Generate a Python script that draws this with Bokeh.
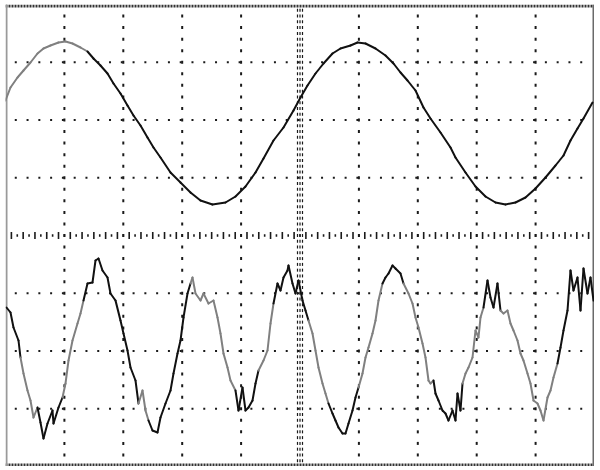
from bokeh.plotting import figure
from bokeh.models import Range1d
from bokeh.embed import file_html
from bokeh.resources import INLINE

# ---- data (time samples, level units) ----
top_t = [0, 5, 12, 18, 25, 32, 38, 45, 53, 60, 67, 75, 82, 88, 95, 102, 108, 115, 122, 128,
         135, 142, 148, 155, 165, 175, 185, 195, 207, 220, 230, 240, 250, 258, 268, 278, 288,
         295, 302, 310, 318, 327, 335, 345, 352, 360, 370, 380, 388, 395, 402, 410, 418, 425,
         435, 445, 450, 460, 470, 480, 490, 500, 510, 520, 530, 540, 550, 558, 565, 572, 578, 587]
top_v = [135, 148, 158, 165, 173, 182, 187, 190, 193, 194, 192, 188, 184, 177, 170, 162, 152,
         142, 130, 120, 110, 98, 88, 78, 63, 53, 43, 35, 31, 33, 39, 49, 63, 77, 95, 108, 125,
         138, 150, 162, 172, 182, 187, 190, 193, 192, 187, 180, 172, 163, 155, 145, 128, 117,
         103, 88, 78, 63, 49, 39, 33, 31, 33, 38, 47, 58, 70, 80, 95, 107, 117, 133]

bot_t = [1, 5, 8, 13, 15, 18, 22, 25, 28, 32, 35, 38, 42, 47, 48, 53, 57, 60, 63, 67, 72, 75,
         78, 82, 87, 90, 93, 97, 102, 105, 110, 115, 118, 122, 125, 130, 133, 137, 140, 143,
         147, 152, 155, 160, 165, 168, 172, 175, 178, 182, 185, 187, 190, 195, 198, 203, 208,
         212, 215, 218, 222, 225, 230, 233, 237, 240, 243, 247, 250, 253, 258, 262, 265, 268,
         272, 275, 278, 282, 283, 287, 290, 293, 297, 300, 303, 307, 310, 313, 317, 320, 323,
         327, 330, 333, 337, 340, 343, 347, 350, 353, 357, 360, 363, 367, 370, 373, 377, 380,
         383, 387, 390, 395, 398, 403, 407, 410, 413, 417, 420, 423, 425, 428, 430, 433, 437,
         440, 443, 447, 450, 452, 455, 457, 460, 463, 467, 470, 473, 475, 478, 482, 485, 488,
         492, 495, 498, 502, 505, 508, 512, 515, 518, 522, 525, 528, 532, 535, 538, 542, 545,
         548, 552, 555, 558, 562, 565, 568, 572, 575, 578, 582, 585, 588]
bot_v = [-72, -77, -92, -105, -122, -138, -155, -165, -182, -172, -187, -203, -188, -175, -188,
         -172, -162, -148, -125, -105, -88, -78, -65, -48, -47, -25, -23, -35, -42, -58, -65,
         -85, -98, -115, -132, -145, -168, -155, -175, -185, -195, -197, -182, -168, -155, -138,
         -118, -105, -82, -58, -48, -42, -58, -65, -58, -68, -65, -82, -98, -118, -132, -145,
         -155, -175, -152, -175, -172, -165, -148, -135, -125, -115, -88, -68, -48, -55, -42,
         -35, -30, -48, -58, -45, -65, -75, -85, -98, -115, -132, -148, -158, -168, -178, -185,
         -192, -198, -198, -188, -175, -162, -152, -138, -122, -112, -98, -85, -65, -48, -42,
         -38, -30, -33, -38, -48, -58, -68, -82, -92, -108, -122, -145, -148, -145, -158, -165,
         -175, -178, -185, -175, -185, -158, -175, -148, -138, -132, -122, -95, -102, -82, -72,
         -45, -62, -72, -48, -75, -78, -75, -88, -95, -105, -118, -125, -138, -148, -165, -168,
         -175, -185, -162, -155, -142, -128, -112, -95, -75, -35, -55, -42, -75, -33, -58, -42,
         -65]

# darker stretches of the printed traces (style only)
top_dark = [(85, 600)]
bot_dark = [(-1, 16), (32, 56), (78, 132), (142, 186), (228, 252), (268, 305), (325, 352),
            (377, 398), (428, 458), (480, 496), (552, 600)]

X_DIV, Y_DIV = 58.9, 57.75
W, H = 589, 462

p = figure(width=W, height=H, output_backend="svg", toolbar_location=None,
           x_range=Range1d(0, W), y_range=Range1d(-H / 2, H / 2),
           min_border=0, outline_line_color=None, background_fill_color="white",
           border_fill_color="white")
p.axis.visible = False
p.grid.visible = False
p.styles = {"margin-left": "5px", "margin-top": "4px"}

ink = "#1a1a1a"
# graticule: vertical dotted lines (dots every 1/5 division)
vx, vy = [], []
for k in range(1, 10):
    if k == 5:
        continue
    for j in range(-19, 20):
        vx.append(X_DIV * k)
        vy.append(j * Y_DIV / 5)
p.rect(x=vx, y=vy, width=2, height=3, width_units="screen", height_units="screen",
       fill_color=ink, line_color=None)
# horizontal dotted lines
hx, hy = [], []
for j in (-3, -2, -1, 1, 2, 3):
    for k in range(1, 50):
        hx.append(k * X_DIV / 5 - 1.5)
        hy.append(Y_DIV * j)
p.rect(x=hx, y=hy, width=2, height=2, width_units="screen", height_units="screen",
       fill_color=ink, line_color=None)
# centre vertical (triple dotted, dots every 1/10 division)
cx_, cy_ = [], []
for dx in (-2.5, 0, 2.5):
    for j in range(-39, 40):
        cx_.append(X_DIV * 5 + dx)
        cy_.append(j * Y_DIV / 10)
p.rect(x=cx_, y=cy_, width=1.2, height=3, width_units="screen", height_units="screen",
       fill_color=ink, line_color=None)
# centre horizontal with minor ticks
step = X_DIV / 10
tall = [step * k for k in range(1, 100) if k % 2 == 1]
small = [step * k for k in range(1, 100) if k % 2 == 0]
p.segment(x0=tall, y0=[-3.5] * len(tall), x1=tall, y1=[3.5] * len(tall),
          line_color=ink, line_width=1.6)
p.segment(x0=small, y0=[-1.2] * len(small), x1=small, y1=[1.2] * len(small),
          line_color=ink, line_width=1.6)
# frame edges
p.segment(x0=[0, 0], y0=[H / 2 - 1.5, -H / 2 + 1.5], x1=[W, W], y1=[H / 2 - 1.5, -H / 2 + 1.5],
          line_color="#333333", line_width=3, line_dash="2 1")
p.segment(x0=[1], y0=[-H / 2], x1=[1], y1=[H / 2], line_color="#9a9a9a", line_width=2)
p.segment(x0=[W - 1], y0=[-H / 2], x1=[W - 1], y1=[H / 2], line_color="#6a6a6a", line_width=2)


def draw_trace(t, v, dark):
    x0, y0, x1, y1, cols = [], [], [], [], []
    for i in range(len(t) - 1):
        m = (t[i] + t[i + 1]) / 2
        is_dark = any(a <= m < b for a, b in dark)
        x0.append(t[i]); y0.append(v[i]); x1.append(t[i + 1]); y1.append(v[i + 1])
        cols.append("#111111" if is_dark else "#808080")
    p.segment(x0=x0, y0=y0, x1=x1, y1=y1, line_color=cols, line_width=2, line_cap="round")


draw_trace(top_t, top_v, top_dark)
draw_trace(bot_t, bot_v, bot_dark)

open("out.html", "w").write(file_html(p, INLINE))
